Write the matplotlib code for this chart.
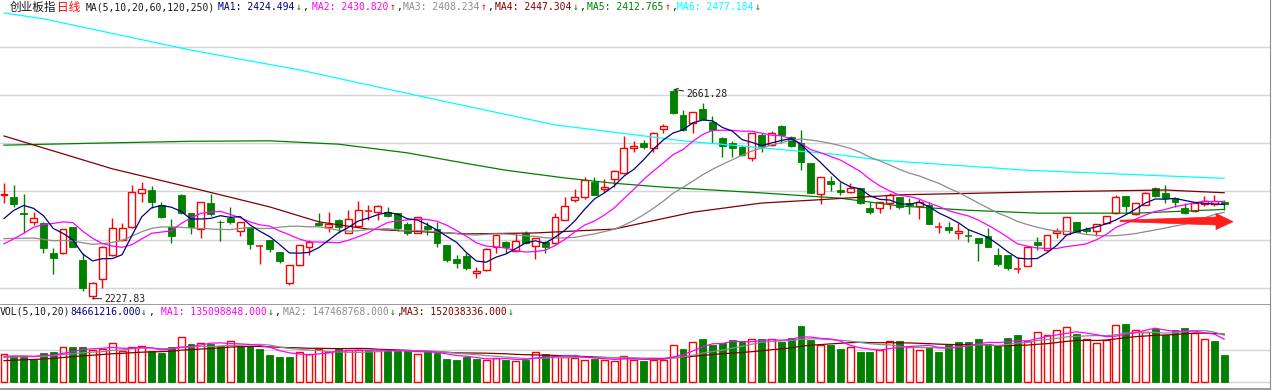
import numpy as np
import pandas as pd
import matplotlib
matplotlib.use("Agg")
import matplotlib.pyplot as plt
from matplotlib.patches import Rectangle, Polygon

# ---------------- data ----------------
opens = [2442.7, 2438.5, 2405.3, 2386.7, 2384.6, 2322.4, 2322.4, 2376.3, 2307.9, 2233.0,
         2268.5, 2318.3, 2349.4, 2376.3, 2446.8, 2453.0, 2421.9, 2376.3, 2442.7, 2405.3,
         2372.2, 2426.1, 2387.5, 2395.0, 2368.0, 2376.3, 2336.5, 2349.4, 2324.5, 2260.3,
         2297.6, 2334.9, 2384.6, 2376.3, 2390.8, 2363.9, 2378.4, 2408.5, 2407.4, 2407.4,
         2405.3, 2382.5, 2363.9, 2378.4, 2372.2, 2339.0, 2310.0, 2316.2, 2281.0, 2287.2,
         2334.9, 2345.2, 2326.6, 2363.9, 2337.0, 2345.2, 2343.2, 2390.8, 2432.3, 2438.5,
         2469.6, 2455.1, 2475.8, 2488.3, 2540.1, 2550.5, 2540.1, 2579.5, 2658.3, 2608.5,
         2591.9, 2621.0, 2594.0, 2560.8, 2550.5, 2542.2, 2519.4, 2567.0, 2546.3, 2585.7,
         2562.9, 2550.5, 2509.0, 2444.7, 2471.7, 2453.0, 2448.9, 2457.2, 2415.7, 2415.7,
         2426.1, 2438.5, 2426.1, 2419.9, 2421.9, 2375.8, 2376.3, 2363.9, 2358.2, 2353.5,
         2357.7, 2318.3, 2318.3, 2289.3, 2295.5, 2345.2, 2328.7, 2363.9, 2361.8, 2386.7,
         2372.2, 2368.0, 2384.6, 2405.3, 2440.6, 2403.3, 2421.9, 2457.2, 2446.8, 2436.4,
         2415.7, 2409.5, 2424.0, 2424.0, 2428.2]
highs = [2467.5, 2463.4, 2444.7, 2407.4, 2386.0, 2332.8, 2373.0, 2377.0, 2322.4, 2263.0,
         2336.0, 2395.0, 2384.6, 2463.4, 2469.6, 2461.3, 2428.2, 2392.9, 2444.0, 2406.0,
         2429.0, 2444.7, 2390.8, 2417.8, 2387.5, 2377.0, 2338.0, 2350.0, 2325.5, 2298.5,
         2340.0, 2349.4, 2405.3, 2407.4, 2392.9, 2411.6, 2430.2, 2421.9, 2421.9, 2417.8,
         2406.0, 2386.7, 2398.0, 2386.7, 2386.7, 2340.0, 2318.3, 2322.4, 2293.4, 2332.0,
         2361.0, 2347.3, 2363.9, 2368.0, 2354.5, 2347.3, 2405.3, 2438.5, 2455.1, 2480.0,
         2480.0, 2475.8, 2494.5, 2565.0, 2554.6, 2556.7, 2573.3, 2589.9, 2661.28, 2618.9,
         2615.5, 2633.4, 2606.4, 2562.0, 2554.6, 2546.3, 2572.0, 2571.2, 2575.3, 2587.8,
         2565.0, 2577.4, 2510.0, 2481.0, 2482.1, 2469.6, 2467.5, 2458.0, 2428.2, 2429.0,
         2446.8, 2439.5, 2436.4, 2434.4, 2428.2, 2386.7, 2386.7, 2384.6, 2372.2, 2354.5,
         2374.3, 2332.8, 2319.0, 2314.1, 2336.0, 2355.6, 2360.5, 2374.3, 2398.0, 2387.5,
         2376.3, 2383.5, 2400.0, 2442.7, 2441.5, 2427.0, 2448.9, 2459.3, 2463.4, 2438.5,
         2426.1, 2427.0, 2440.6, 2442.7, 2432.3]
lows = [2426.1, 2417.8, 2363.9, 2380.5, 2322.4, 2278.9, 2321.0, 2334.0, 2243.7, 2227.83,
        2249.9, 2317.0, 2348.0, 2375.0, 2428.2, 2415.7, 2396.0, 2343.2, 2404.0, 2361.8,
        2353.5, 2399.1, 2347.3, 2382.5, 2357.7, 2330.7, 2299.6, 2324.5, 2301.7, 2256.1,
        2296.0, 2318.3, 2378.4, 2366.0, 2363.9, 2363.0, 2377.0, 2390.8, 2390.8, 2397.1,
        2368.0, 2359.8, 2363.0, 2359.8, 2334.9, 2303.8, 2291.3, 2287.2, 2270.6, 2286.0,
        2322.4, 2322.4, 2326.0, 2342.0, 2310.0, 2322.4, 2342.0, 2390.0, 2428.2, 2434.4,
        2442.0, 2448.9, 2459.3, 2487.0, 2531.8, 2538.0, 2531.8, 2571.2, 2610.6, 2575.3,
        2571.2, 2599.0, 2550.5, 2521.4, 2521.4, 2523.5, 2513.2, 2531.8, 2544.2, 2550.5,
        2542.2, 2494.5, 2446.0, 2424.0, 2451.0, 2442.7, 2446.8, 2424.0, 2403.3, 2405.3,
        2413.6, 2413.6, 2403.3, 2392.9, 2382.0, 2363.9, 2363.9, 2351.5, 2345.2, 2305.9,
        2334.0, 2295.5, 2287.2, 2281.0, 2294.5, 2328.7, 2326.6, 2353.5, 2361.0, 2366.0,
        2363.9, 2357.7, 2384.0, 2404.0, 2405.3, 2401.2, 2421.0, 2438.5, 2426.1, 2417.8,
        2403.3, 2407.4, 2419.9, 2419.9, 2411.6]
closes = [2444.7, 2424.0, 2403.3, 2395.0, 2332.8, 2312.1, 2372.2, 2334.9, 2249.9, 2261.0,
          2334.9, 2373.5, 2375.0, 2448.9, 2455.1, 2428.2, 2397.1, 2357.7, 2405.3, 2376.3,
          2428.2, 2403.3, 2386.0, 2387.0, 2386.0, 2341.1, 2337.5, 2330.7, 2305.9, 2297.6,
          2339.0, 2345.2, 2380.5, 2382.5, 2376.3, 2392.9, 2411.6, 2409.5, 2419.9, 2399.1,
          2374.3, 2363.9, 2397.1, 2372.2, 2343.2, 2307.9, 2301.7, 2291.3, 2285.1, 2330.7,
          2359.8, 2334.9, 2347.3, 2343.2, 2353.5, 2334.9, 2397.1, 2419.9, 2438.5, 2473.8,
          2442.7, 2459.3, 2492.5, 2540.1, 2544.2, 2542.2, 2571.2, 2585.7, 2612.7, 2577.4,
          2614.7, 2600.2, 2577.4, 2544.2, 2540.1, 2525.6, 2571.2, 2544.2, 2571.2, 2567.0,
          2544.2, 2511.1, 2446.8, 2480.0, 2465.5, 2448.9, 2457.2, 2426.1, 2407.4, 2428.2,
          2442.7, 2417.8, 2421.9, 2428.2, 2382.5, 2376.8, 2370.1, 2368.0, 2357.2, 2343.2,
          2334.9, 2299.6, 2291.3, 2290.3, 2334.9, 2339.0, 2359.8, 2368.0, 2397.1, 2367.0,
          2368.0, 2382.5, 2399.1, 2438.5, 2419.9, 2426.1, 2446.8, 2440.6, 2436.4, 2428.2,
          2405.3, 2426.1, 2430.4, 2429.6, 2424.0]
# volume, millions of shares
vol_m = [88.7, 83.4, 83.4, 74.0, 91.9, 95.0, 109.8, 109.8, 109.8, 100.4,
         104.4, 122.3, 97.2, 109.8, 112.9, 97.2, 91.9, 109.8, 141.1, 120.1,
         122.3, 120.1, 114.8, 130.5, 114.8, 112.9, 104.4, 86.6, 79.3, 79.3,
         95.0, 88.7, 104.4, 94.1, 107.6, 100.4, 100.4, 100.4, 97.2, 100.4,
         97.2, 97.2, 88.7, 94.1, 91.9, 74.0, 70.9, 78.4, 74.0, 70.9,
         76.2, 70.9, 67.7, 70.9, 95.0, 88.7, 81.5, 78.4, 76.2, 70.9,
         74.0, 70.9, 67.7, 81.5, 70.9, 67.7, 70.9, 70.9, 117.9, 104.4,
         126.4, 136.7, 117.9, 123.2, 133.6, 126.4, 135.8, 136.7, 135.8, 125.4,
         138.9, 175.6, 133.6, 116.0, 116.0, 104.4, 109.8, 95.0, 95.0, 100.4,
         128.6, 128.6, 109.8, 102.2, 110.7, 95.0, 116.0, 126.4, 126.4, 136.7,
         120.1, 112.9, 138.9, 147.4, 128.6, 156.8, 147.4, 163.1, 172.5, 151.5,
         136.7, 123.2, 133.6, 178.8, 182.8, 163.1, 156.8, 167.1, 149.3, 163.1,
         170.3, 154.6, 136.7, 130.5, 84.661216]
# estimated closes / volumes just before the window (read back from where the MA lines start)
prior_closes = [2410, 2400, 2390, 2385, 2370, 2360, 2350, 2335, 2320, 2310,
                2320, 2290, 2270, 2275, 2290, 2339, 2353, 2425, 2408]
prior_vol_m = [55, 52, 58, 60, 54, 57, 62, 56, 59, 61,
               70, 76, 72, 78, 76.5, 78, 82, 80, 78.8]
# long moving averages read at some candles (candle number, value)
ma60_n = [1, 12, 21, 28, 33, 38, 48, 55, 63, 71, 78, 84, 92, 106, 119, 125]
ma60_v = [2565, 2497, 2453, 2418, 2387, 2372, 2362, 2364, 2372, 2407, 2426, 2433, 2443, 2449, 2453, 2447.3]
ma120_n = [1, 10, 20, 28, 35, 42, 48, 52, 58, 63, 68, 78, 86, 92, 99, 106, 116, 125]
ma120_v = [2546, 2550, 2554, 2555, 2548, 2530, 2508, 2494, 2478, 2467, 2459, 2447, 2436, 2420, 2411, 2405, 2405, 2412.8]
ma250_n = [1, 5, 20, 31, 45, 57, 70, 86, 90, 105, 125]
ma250_v = [2820, 2808, 2743, 2702, 2640, 2588, 2555, 2526, 2515, 2494, 2477.2]

high_label = "2661.28"
low_label = "2227.83"

# ---------------- styling ----------------
RED = "#ff0000"
GREEN = "#008000"
NAVY = "#000080"
MAGENTA = "#ff00ff"
GRAY = "#8c8c8c"
DRED = "#800000"
CYAN = "#00ffff"
GRID = "#d4d4d4"
BORDER = "#8a8a8a"
MONO = "DejaVu Sans Mono"
CJK = ["Noto Sans CJK SC", "DejaVu Sans"]

W, H = 1280, 390
fig = plt.figure(figsize=(W / 100, H / 100), dpi=100)
fig.patch.set_facecolor("white")

# panel geometry in pixels
right_px = 1270
sep_px = 305
bot_px = 389
ax = fig.add_axes([0, (H - sep_px) / H, right_px / W, sep_px / H])
axv = fig.add_axes([0, (H - bot_px) / H, right_px / W, (bot_px - sep_px) / H])

n = len(closes)
x = np.arange(n)
step = 9.84
x0 = 4.0
xlim = (-x0 / step, (right_px - x0) / step)

# price scale: 100 points = 48.24 px
ppx = 2.073
ptop = 2846.9
ax.set_xlim(*xlim)
ax.set_ylim(ptop - ppx * sep_px, ptop)

for g in [2250, 2350, 2450, 2550, 2650, 2750]:
    ax.axhline(g, color=GRID, lw=1.0, zorder=0)

# moving averages of closes
allc = pd.Series(prior_closes + closes, dtype=float)
k = len(prior_closes)
ma5 = allc.rolling(5).mean().values[k:]
ma10 = allc.rolling(10).mean().values[k:]
ma20 = allc.rolling(20).mean().values[k:]

# candles
bw = 0.7
for i in range(n):
    o, h, l, c = opens[i], highs[i], lows[i], closes[i]
    if c >= o:
        ax.vlines(i, c, h, color=RED, lw=1.0, zorder=2)
        ax.vlines(i, l, o, color=RED, lw=1.0, zorder=2)
        if c - o < 1.5:
            ax.hlines((o + c) / 2, i - bw / 2, i + bw / 2, color=RED, lw=1.1, zorder=2)
        else:
            ax.add_patch(Rectangle((i - bw / 2, o), bw, c - o, facecolor="white",
                                   edgecolor=RED, lw=1.0, zorder=2))
    else:
        ax.vlines(i, l, h, color=GREEN, lw=1.0, zorder=2)
        if o - c < 1.5:
            ax.hlines((o + c) / 2, i - bw / 2, i + bw / 2, color=GREEN, lw=1.1, zorder=2)
        else:
            ax.add_patch(Rectangle((i - bw / 2, c), bw, o - c, facecolor=GREEN,
                                   edgecolor=GREEN, lw=0.6, zorder=2))

lw_ma = 0.9
ax.plot(np.array(ma250_n) - 1, ma250_v, color=CYAN, lw=lw_ma, zorder=3)
ax.plot(np.array(ma120_n) - 1, ma120_v, color=GREEN, lw=lw_ma, zorder=3)
ax.plot(np.array(ma60_n) - 1, ma60_v, color=DRED, lw=lw_ma, zorder=3)
ax.plot(x, ma20, color=GRAY, lw=lw_ma, zorder=3)
ax.plot(x, ma10, color=MAGENTA, lw=lw_ma, zorder=3)
ax.plot(x, ma5, color=NAVY, lw=lw_ma, zorder=3)

# high / low labels
ih = int(np.argmax(highs))
il = int(np.argmin(lows))
ax.annotate(high_label, xy=(ih, highs[ih]), xytext=(ih + 1.35, highs[ih] - 9),
            fontsize=7, family=MONO, color="#202020", va="center", ha="left",
            arrowprops=dict(arrowstyle="->", color="#202020", lw=0.7,
                            shrinkA=0, shrinkB=0))
ax.annotate(low_label, xy=(il, lows[il]), xytext=(il + 1.2, lows[il] - 0.5),
            fontsize=7, family=MONO, color="#202020", va="center", ha="left",
            arrowprops=dict(arrowstyle="-", color="#202020", lw=0.7,
                            shrinkA=0, shrinkB=0))

for s in ["top", "left"]:
    ax.spines[s].set_visible(False)
ax.spines["right"].set_color(BORDER)
ax.spines["bottom"].set_color(BORDER)
ax.spines["bottom"].set_linewidth(1.2)
ax.set_xticks([])
ax.set_yticks([])

# ---------------- volume panel ----------------
vpx = 3.136  # millions per pixel
vbase = 382.3
axv.set_xlim(*xlim)
axv.set_ylim(-(bot_px - vbase) * vpx, (vbase - sep_px) * vpx)
axv.axhline(0, color=GRID, lw=1.0, zorder=0)
axv.axhline(100, color=GRID, lw=1.0, zorder=0)

prev_c = [prior_closes[-1]] + closes[:-1]
for i in range(n):
    up = closes[i] >= prev_c[i]
    if up:
        axv.add_patch(Rectangle((i - bw / 2, 0), bw, vol_m[i], facecolor="white",
                                edgecolor=RED, lw=1.0, zorder=2))
    else:
        axv.add_patch(Rectangle((i - bw / 2, 0), bw, vol_m[i], facecolor=GREEN,
                                edgecolor=GREEN, lw=0.6, zorder=2))

allv = pd.Series(prior_vol_m + vol_m, dtype=float)
kv = len(prior_vol_m)
vma5 = allv.rolling(5).mean().values[kv:]
vma10 = allv.rolling(10).mean().values[kv:]
vma20 = allv.rolling(20).mean().values[kv:]
axv.plot(x, vma20, color=DRED, lw=lw_ma, zorder=3)
axv.plot(x, vma10, color=GRAY, lw=lw_ma, zorder=3)
axv.plot(x, vma5, color=MAGENTA, lw=lw_ma, zorder=3)

for s in ["top", "left"]:
    axv.spines[s].set_visible(False)
axv.spines["right"].set_color(BORDER)
axv.spines["bottom"].set_color(BORDER)
axv.spines["bottom"].set_linewidth(1.2)
axv.set_xticks([])
axv.set_yticks([])

# ---------------- header texts ----------------
def put(txt, px, py, color, fam=MONO, size=7.0):
    fig.text(px / W, 1 - py / H, txt, color=color, family=fam, fontsize=size,
             ha="left", va="center")

ty = 7
put("创业板指", 10, ty, "#1a1a1a", CJK, 8.4)
put("日线", 57, ty, RED, CJK, 8.4)
put("MA(5,10,20,60,120,250)", 86, ty, "#1a1a1a")
hdr = [("MA1: 2424.494", 218, NAVY, "↓", GREEN),
       ("MA2: 2430.820", 312, MAGENTA, "↑", RED),
       ("MA3: 2408.234", 403, GRAY, "↑", RED),
       ("MA4: 2447.304", 495, DRED, "↓", GREEN),
       ("MA5: 2412.765", 587, GREEN, "↑", RED),
       ("MA6: 2477.184", 677, CYAN, "↓", GREEN)]
for j, (t, px, col, arr, acol) in enumerate(hdr):
    put(t, px, ty, col)
    put(arr, px + 78, ty, acol)
    if j < len(hdr) - 1:
        put(",", px + 84, ty, "#1a1a1a")

vy = 312
put("VOL(5,10,20)", 0, vy, "#1a1a1a")
put("84661216.000", 70, vy, NAVY)
put("↓", 141, vy, GREEN)
put(",", 148, vy, "#1a1a1a")
vh = [("MA1: 135098848.000", 161, MAGENTA), ("MA2: 147468768.000", 283, GRAY),
      ("MA3: 152038336.000", 401, DRED)]
for j, (t, px, col) in enumerate(vh):
    put(t, px, vy, col)
    put("↓", px + 107, vy, GREEN)
    if j < len(vh) - 1:
        put(",", px + 113, vy, "#1a1a1a")

# ---------------- red arrow annotation (pixel coordinates) ----------------
arrow_px = [(1120, 220.2), (1216, 217.0), (1216, 213.5), (1233, 221.7),
            (1216, 229.5), (1216, 225.0), (1120, 221.6)]
fig.add_artist(Polygon([(px, H - py) for px, py in arrow_px], closed=True,
                       transform=None, facecolor="#ff1e1e", edgecolor="#ff1e1e",
                       lw=0.5, zorder=10))

fig.savefig("out.png", dpi=100, facecolor="white")
